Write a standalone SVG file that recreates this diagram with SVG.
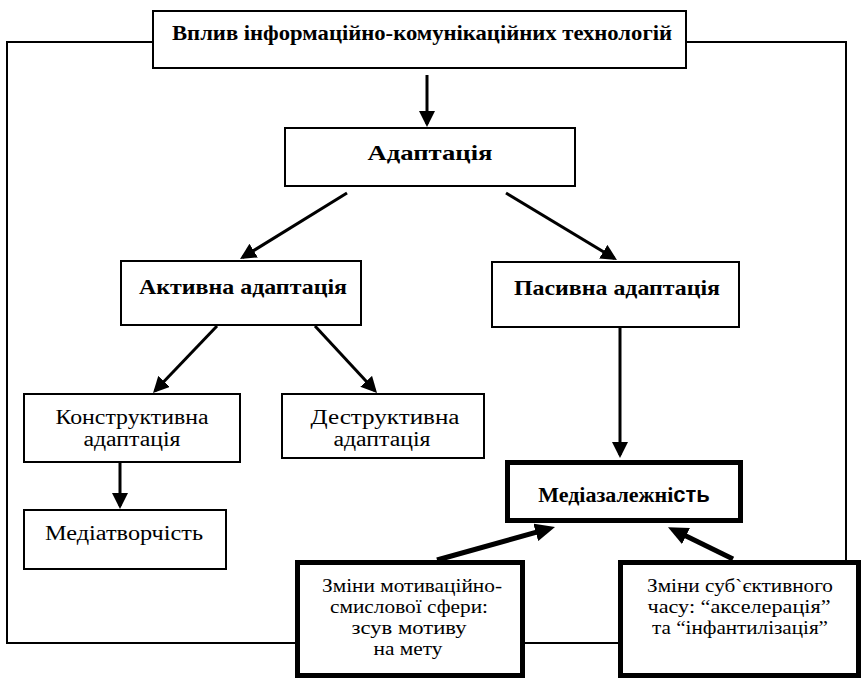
<svg xmlns="http://www.w3.org/2000/svg" width="863" height="680" viewBox="0 0 863 680">
<style>
  .box { fill: #fff; stroke: #000; stroke-width: 2; }
  .thick { fill: #fff; stroke: #000; stroke-width: 5; }
  .frame { fill: none; stroke: #000; stroke-width: 2; }
  .arr { fill: none; stroke: #000; stroke-width: 3; marker-end: url(#ah); }
  .arrT { fill: none; stroke: #000; stroke-width: 5; marker-end: url(#ahT); }
  .b { font-weight: bold; font-size: 21px; }
  .r { font-size: 20px; }
  .s { font-size: 19px; }
</style>
<defs>
  <marker id="ah" viewBox="0 0 16 16" refX="13" refY="8" markerWidth="16" markerHeight="16" markerUnits="userSpaceOnUse" orient="auto">
    <path d="M0,0 L16,8 L0,16 z" fill="#000"/>
  </marker>
  <marker id="ahT" viewBox="0 0 20 18" refX="13" refY="9" markerWidth="20" markerHeight="18" markerUnits="userSpaceOnUse" orient="auto">
    <path d="M0,0 L20,9 L0,18 z" fill="#000"/>
  </marker>
</defs>

<g id="connectors">
  <polyline class="frame" points="153,42 7,42 7,643 296,643"/>
  <polyline class="frame" points="686,42 846,42 846,560"/>
  <line class="frame" x1="522" y1="643" x2="619" y2="643"/>
  <line class="arr" x1="427" y1="75" x2="427" y2="124"/>
  <line class="arr" x1="347" y1="193" x2="242.6" y2="257.4"/>
  <line class="arr" x1="506" y1="193" x2="614.4" y2="258.4"/>
  <line class="arr" x1="217" y1="326" x2="155.1" y2="390.8"/>
  <line class="arr" x1="315" y1="326" x2="375" y2="390.8"/>
  <line class="arr" x1="620" y1="328" x2="620" y2="455"/>
  <line class="arr" x1="120" y1="463" x2="120" y2="506"/>
  <line class="arrT" x1="437" y1="560" x2="548.3" y2="528.9"/>
  <line class="arrT" x1="733" y1="559" x2="674.3" y2="530.3"/>
</g>

<g font-family="Liberation Serif, Times New Roman, serif" text-anchor="middle" fill="#000">
<g id="n-top">
  <rect class="box" x="153" y="11" width="533" height="57"/>
  <text class="b" x="422" y="40" textLength="500" lengthAdjust="spacingAndGlyphs">Вплив інформаційно-комунікаційних технологій</text>
</g>
<g id="n-adapt">
  <rect class="box" x="285" y="128" width="290" height="58"/>
  <text class="b" x="430" y="160" textLength="125" lengthAdjust="spacingAndGlyphs">Адаптація</text>
</g>
<g id="n-active">
  <rect class="box" x="121" y="261" width="240" height="64"/>
  <text class="b" x="243" y="294" textLength="208" lengthAdjust="spacingAndGlyphs">Активна адаптація</text>
</g>
<g id="n-passive">
  <rect class="box" x="492" y="262" width="247" height="65"/>
  <text class="b" x="617" y="295" textLength="206" lengthAdjust="spacingAndGlyphs">Пасивна адаптація</text>
</g>
<g id="n-constr">
  <rect class="box" x="24" y="394" width="216" height="68"/>
  <text class="r" x="132" y="424" textLength="153" lengthAdjust="spacingAndGlyphs">Конструктивна</text>
  <text class="r" x="132" y="446" textLength="97" lengthAdjust="spacingAndGlyphs">адаптація</text>
</g>
<g id="n-destr">
  <rect class="box" x="282" y="394" width="202" height="64"/>
  <text class="r" x="385" y="424" textLength="149" lengthAdjust="spacingAndGlyphs">Деструктивна</text>
  <text class="r" x="382" y="446" textLength="97" lengthAdjust="spacingAndGlyphs">адаптація</text>
</g>
<g id="n-creat">
  <rect class="box" x="24" y="510" width="202" height="59"/>
  <text class="r" x="124" y="540" textLength="158" lengthAdjust="spacingAndGlyphs">Медіатворчість</text>
</g>
<g id="n-dep">
  <rect class="thick" x="507.5" y="462.5" width="233" height="58"/>
  <text class="b" x="624" y="502" style="font-size:22px">Медіазалежні<tspan font-family="Liberation Sans, Arial, sans-serif">сть</tspan></text>
</g>
<g id="n-motiv">
  <rect class="thick" x="297.5" y="562.5" width="225" height="113"/>
  <text class="s" x="412" y="592" textLength="180" lengthAdjust="spacingAndGlyphs">Зміни мотиваційно-</text>
  <text class="s" x="409" y="613" textLength="158" lengthAdjust="spacingAndGlyphs">смислової сфери:</text>
  <text class="s" x="409" y="634" textLength="115" lengthAdjust="spacingAndGlyphs">зсув мотиву</text>
  <text class="s" x="408" y="655" textLength="69" lengthAdjust="spacingAndGlyphs">на мету</text>
</g>
<g id="n-time">
  <rect class="thick" x="620.5" y="562.5" width="238" height="113"/>
  <text class="s" x="740" y="592" textLength="186" lengthAdjust="spacingAndGlyphs">Зміни суб`єктивного</text>
  <text class="s" x="739" y="613" textLength="183" lengthAdjust="spacingAndGlyphs">часу: “акселерація”</text>
  <text class="s" x="740" y="634" textLength="176" lengthAdjust="spacingAndGlyphs">та “інфантилізація”</text>
</g>
</g>
</svg>
